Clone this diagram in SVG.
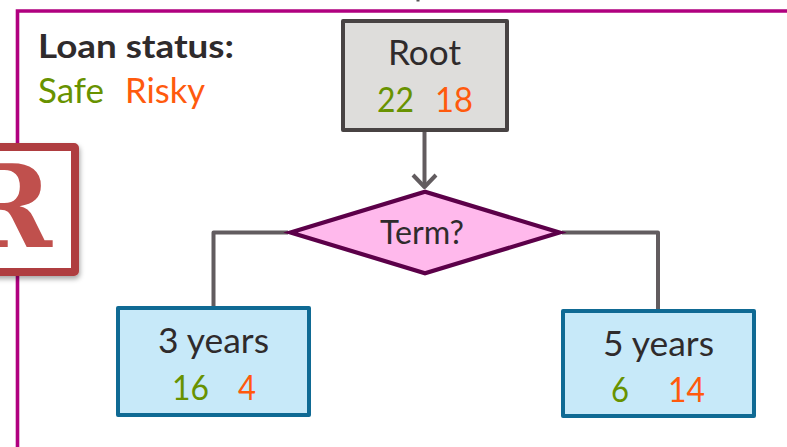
<svg xmlns="http://www.w3.org/2000/svg" width="787" height="447" viewBox="0 0 787 447">
<style>
text{font-family:"Lato","Open Sans",sans-serif;font-size:34px;fill:#2f2b2c}
.g{fill:#689200}.o{fill:#ff5a0d}
.leaf{fill:#c7e9f9;stroke:#0f6a94;stroke-width:4;stroke-linejoin:round}
.c{fill:none;stroke:#625c5f;stroke-width:4;stroke-linejoin:round}
</style>
<defs><filter id="sh" x="-20%" y="-20%" width="140%" height="140%"><feDropShadow dx="1" dy="3" stdDeviation="2.5" flood-color="#000" flood-opacity="0.35"/></filter></defs>
<rect width="787" height="447" fill="#fff"/>
<rect x="416.500" y="0" width="3" height="1.500" fill="#555"/>
<path d="M17.500 447V11H787" fill="none" stroke="#b0007f" stroke-width="3.600"/>
<g id="legend">
<text x="38" y="58" textLength="196" lengthAdjust="spacingAndGlyphs" style="font-weight:700;font-size:33px">Loan status:</text>
<text class="g" x="38" y="103" textLength="66" lengthAdjust="spacingAndGlyphs">Safe</text>
<text class="o" x="125" y="103" textLength="80" lengthAdjust="spacingAndGlyphs">Risky</text>
</g>
<g id="logo">
<rect x="-10" y="147" width="85" height="125" rx="1" fill="#fff" stroke="#af3d3f" stroke-width="8" stroke-linejoin="round" filter="url(#sh)"/>
<text x="-38" y="247" textLength="90" lengthAdjust="spacingAndGlyphs" style="font-family:'DejaVu Serif',serif;font-weight:700;font-size:114px;fill:#c0504d">R</text>
</g>
<g id="connectors">
<path class="c" d="M424.500 131V187"/>
<path class="c" d="M413 175L424.500 187L436 175"/>
<path class="c" d="M288 232.500H213.500V308"/>
<path class="c" d="M562 232.500H658V309"/>
</g>
<g id="root">
<rect x="343" y="21" width="164" height="109" fill="#dedddb" stroke="#484343" stroke-width="4" stroke-linejoin="round"/>
<text x="388" y="65" textLength="73" lengthAdjust="spacingAndGlyphs">Root</text>
<text class="g" x="377" y="112" textLength="37" lengthAdjust="spacingAndGlyphs">22</text>
<text class="o" x="435" y="112" textLength="38" lengthAdjust="spacingAndGlyphs">18</text>
</g>
<g id="term">
<polygon points="290.500,232.500 425,191.800 559.500,232.500 425,273.200" fill="#ffb9ec" stroke="#5c0049" stroke-width="4.200"/>
<text x="380" y="244" textLength="84" lengthAdjust="spacingAndGlyphs" style="font-size:32px">Term?</text>
</g>
<g id="three-years">
<rect class="leaf" x="118" y="308" width="191" height="107"/>
<text x="158" y="353" textLength="111" lengthAdjust="spacingAndGlyphs">3 years</text>
<text class="g" x="172" y="400" textLength="37" lengthAdjust="spacingAndGlyphs">16</text>
<text class="o" x="238" y="400" textLength="18" lengthAdjust="spacingAndGlyphs">4</text>
</g>
<g id="five-years">
<rect class="leaf" x="563" y="311" width="191" height="105"/>
<text x="603" y="356" textLength="111" lengthAdjust="spacingAndGlyphs">5 years</text>
<text class="g" x="611" y="402" textLength="18" lengthAdjust="spacingAndGlyphs">6</text>
<text class="o" x="668" y="402" textLength="37" lengthAdjust="spacingAndGlyphs">14</text>
</g>
</svg>
